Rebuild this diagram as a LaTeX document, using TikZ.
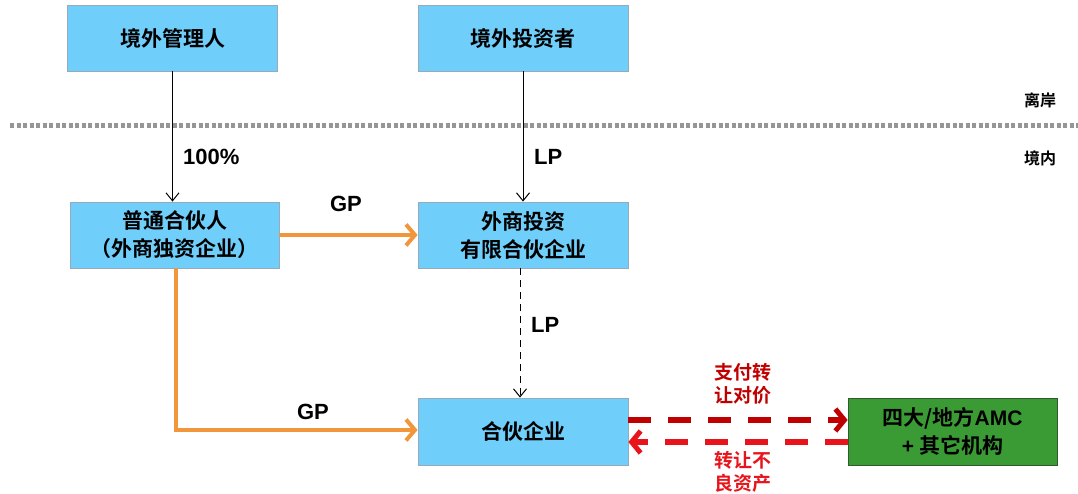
\documentclass[tikz,border=0pt]{standalone}
\usepackage{fontspec}
\setmainfont{Liberation Sans}
\newfontfamily\cjk{Noto Sans CJK SC}[BoldFont={* Bold}]
\usetikzlibrary{arrows.meta}
\definecolor{boxblue}{RGB}{112,206,250}
\definecolor{boxedge}{RGB}{150,170,185}
\definecolor{amcgreen}{RGB}{58,154,52}
\definecolor{amcedge}{RGB}{50,90,45}
\definecolor{orangeln}{RGB}{242,150,60}
\definecolor{darkred}{RGB}{192,0,0}
\definecolor{brightred}{RGB}{232,20,28}
\definecolor{dotgray}{RGB}{150,150,150}
\tikzset{
  bluebox/.style={draw=boxedge, line width=0.8pt, fill=boxblue, minimum width=210pt, minimum height=66pt, inner sep=0pt, align=center, font=\cjk\bfseries\fontsize{21}{28}\selectfont},
  greenbox/.style={draw=amcedge, line width=0.8pt, fill=amcgreen, minimum width=209pt, minimum height=67pt, inner sep=0pt, align=center, font=\cjk\bfseries\fontsize{21}{28}\selectfont},
  thinarrow/.style={draw=black, line width=1pt, -{Straight Barb[length=8pt,width=13pt,line width=1pt]}},
  orangearrow/.style={draw=orangeln, line width=4pt, -{Straight Barb[length=9pt,width=21pt,line width=4pt]}},
  redarrow/.style={line width=6pt, dash pattern=on 23pt off 17pt, -{Straight Barb[length=9pt,width=22pt,line width=5pt]}},
  lbl/.style={font=\bfseries\fontsize{22}{24}\selectfont, inner sep=0pt},
  redlbl/.style={font=\cjk\bfseries\fontsize{19}{23}\selectfont, align=center, inner sep=0pt},
  zone/.style={font=\cjk\bfseries\fontsize{16}{18}\selectfont, inner sep=0pt}
}
\begin{document}
\begin{tikzpicture}[x=1pt,y=1pt]
\useasboundingbox (0,0) rectangle (1078,494);
% boxes
\node[bluebox] (mgr) at (172.5,456) {境外管理人};
\node[bluebox] (inv) at (523,456) {境外投资者};
\node[bluebox, minimum width=209pt] (gp) at (174.5,259) {普通合伙人\\（外商独资企业）};
\node[bluebox] (fie) at (523,259) {外商投资\\有限合伙企业};
\node[bluebox, minimum height=67pt] (pe) at (523,62.5) {合伙企业};
\node[greenbox] (amc) at (952.5,62.5) {四大/地方{\fontspec{Liberation Sans}AMC}\\{\fontspec{Liberation Sans}+} 其它机构};
% dotted boundary
\coordinate (dl) at (10,368);
\coordinate (dr) at (1078,368);
\draw[dotgray, line width=5pt, dash pattern=on 4pt off 2.5pt] (dl) -- (dr);
\node[zone] (off) at (1040,394) {离岸};
\node[zone] (on) at (1040,336) {境内};
% black arrows
\draw[thinarrow] (mgr.south) -- (gp.north -| mgr.south);
\node[lbl, anchor=west] (l100) at (183,337) {100\%};
\draw[thinarrow] (inv.south) -- (fie.north);
\node[lbl, anchor=west] (llp1) at (534,337) {LP};
\draw[thinarrow, dash pattern=on 7pt off 5pt] ([xshift=-3pt]fie.south) -- ([xshift=-3pt]pe.north);
\node[lbl, anchor=west] (llp2) at (531,169) {LP};
% orange arrows
\draw[orangearrow] (gp.east) -- (fie.west);
\node[lbl] (lgp1) at (346,290) {GP};
\coordinate (corner) at (176,64);
\draw[orangearrow, line join=miter] ([xshift=1.5pt]gp.south) -- (corner) -- (corner -| pe.west);
\node[lbl] (lgp2) at (313,82) {GP};
% red arrows
\draw[redarrow, darkred] ([yshift=11.5pt]pe.east) -- ([yshift=11.5pt]amc.west);
\draw[redarrow, brightred] ([yshift=-10.5pt]amc.west) -- ([yshift=-10.5pt]pe.east);
\node[redlbl, darkred] (pay) at (743,110.5) {支付转\\让对价};
\node[redlbl, brightred] (trans) at (743,22) {转让不\\良资产};
\end{tikzpicture}
\end{document}
